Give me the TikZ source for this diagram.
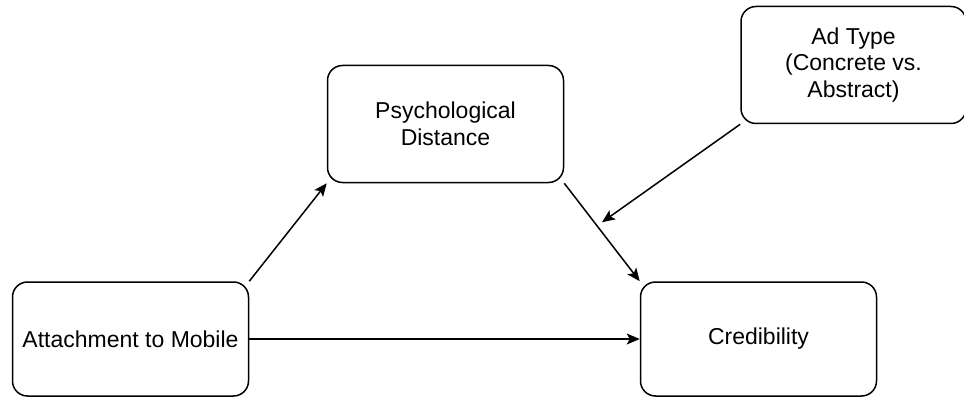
\documentclass[tikz,border=0pt]{standalone}
\usepackage{fontspec}
\setmainfont{Liberation Sans}
\usepackage{tikz}
\usetikzlibrary{positioning,arrows.meta}

\begin{document}
\begin{tikzpicture}[>={Stealth[length=13pt,width=11pt,inset=3pt]},line width=1.5pt,auto]
  \tikzstyle{every node}=[font=\fontsize{23}{26.7}\selectfont]
  \tikzstyle{block}=[draw=black,line width=1.5pt,rounded corners=15pt,align=center,minimum width=236pt]

  \useasboundingbox (0,0) rectangle (964pt,397pt);

  % Bottom row
  \node[block, minimum height=114pt] (att) at (130.5pt,58pt) {Attachment to Mobile};
  \node[block, minimum height=114pt] (cred) [right=390.5pt of att] {Credibility};

  % Mediator and moderator
  \node[block, minimum height=117pt] (psych) [above right=98pt and 77.5pt of att] {Psychological\\Distance};
  \node[block, minimum height=117pt, minimum width=225pt] (adtype) [right=176pt of psych, yshift=59pt] {Ad Type\\(Concrete vs.\\Abstract)};

  % Paths
  \path[->]
    (att.north east) edge (psych.south west)
    (att.east) edge (cred.west)
    (psych.south east) edge coordinate[pos=0.5] (mid) (cred.north west);

  % Moderation
  \path[->] (adtype.south west) edge ([yshift=10pt]mid);
\end{tikzpicture}
\end{document}
